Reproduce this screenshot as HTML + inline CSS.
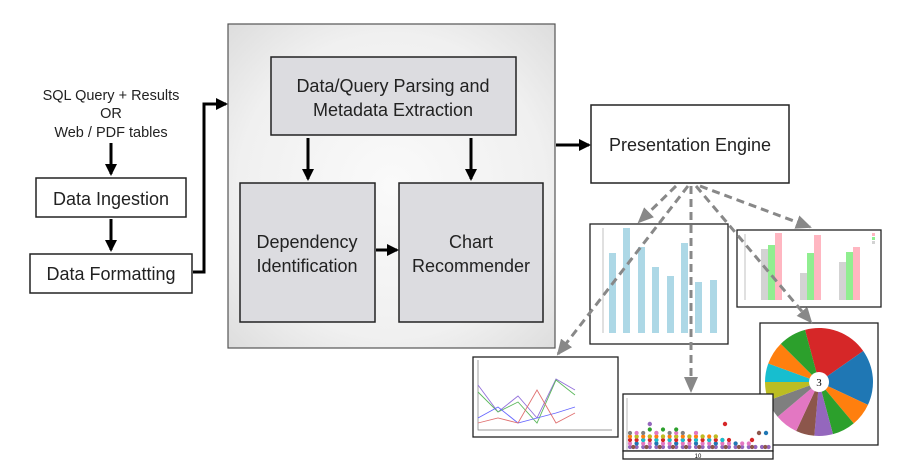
<!DOCTYPE html>
<html><head><meta charset="utf-8"><style>
html,body{margin:0;padding:0;background:#fff;}
svg{display:block;font-family:"Liberation Sans",sans-serif;}
</style></head><body>
<svg width="911" height="465" viewBox="0 0 911 465" xmlns="http://www.w3.org/2000/svg">
<defs>
<radialGradient id="g" cx="50%" cy="50%" r="72%">
<stop offset="0" stop-color="#fafafa"/><stop offset="0.65" stop-color="#f0f0f0"/><stop offset="1" stop-color="#dcdcdc"/>
</radialGradient>
<marker id="ah" markerWidth="12" markerHeight="12" refX="10" refY="6" orient="auto" markerUnits="userSpaceOnUse"><path d="M0,0 L12,6 L0,12 z" fill="#000"/></marker>
<marker id="gh" markerWidth="16" markerHeight="14" refX="14" refY="7" orient="auto" markerUnits="userSpaceOnUse"><path d="M0,0 L16,7 L0,14 z" fill="#888"/></marker>
</defs>

<rect x="228" y="24" width="327" height="324" fill="url(#g)" stroke="#555" stroke-width="1.2"/>
<rect x="271" y="57" width="245" height="78" fill="#dcdce0" stroke="#222" stroke-width="1.5"/>
<text x="393" y="92" font-size="18" text-anchor="middle" fill="#222">Data/Query Parsing and</text>
<text x="393" y="116" font-size="18" text-anchor="middle" fill="#222">Metadata Extraction</text>
<rect x="240" y="183" width="135" height="139" fill="#dcdce0" stroke="#222" stroke-width="1.5"/>
<text x="307" y="248" font-size="18" text-anchor="middle" fill="#222">Dependency</text>
<text x="307" y="272" font-size="18" text-anchor="middle" fill="#222">Identification</text>
<rect x="399" y="183" width="144" height="139" fill="#dcdce0" stroke="#222" stroke-width="1.5"/>
<text x="471" y="248" font-size="18" text-anchor="middle" fill="#222">Chart</text>
<text x="471" y="272" font-size="18" text-anchor="middle" fill="#222">Recommender</text>

<line x1="308" y1="138" x2="308" y2="179" stroke="#000" stroke-width="3" marker-end="url(#ah)"/>
<line x1="471" y1="138" x2="471" y2="179" stroke="#000" stroke-width="3" marker-end="url(#ah)"/>
<line x1="376" y1="250" x2="397" y2="250" stroke="#000" stroke-width="3" marker-end="url(#ah)"/>

<text x="111" y="100" font-size="14.5" text-anchor="middle" fill="#222">SQL Query + Results</text>
<text x="111" y="118" font-size="14.5" text-anchor="middle" fill="#222">OR</text>
<text x="111" y="137" font-size="14.5" text-anchor="middle" fill="#222">Web / PDF tables</text>
<line x1="111" y1="143" x2="111" y2="174" stroke="#000" stroke-width="3" marker-end="url(#ah)"/>
<rect x="36" y="178" width="150" height="39" fill="#fff" stroke="#222" stroke-width="1.5"/>
<text x="111" y="205" font-size="18" text-anchor="middle" fill="#222">Data Ingestion</text>
<line x1="111" y1="219" x2="111" y2="250" stroke="#000" stroke-width="3" marker-end="url(#ah)"/>
<rect x="30" y="254" width="162" height="39" fill="#fff" stroke="#222" stroke-width="1.5"/>
<text x="111" y="280" font-size="18" text-anchor="middle" fill="#222">Data Formatting</text>
<polyline points="193,272 204,272 204,104 226,104" fill="none" stroke="#000" stroke-width="3" marker-end="url(#ah)"/>

<line x1="556" y1="145" x2="589" y2="145" stroke="#000" stroke-width="3" marker-end="url(#ah)"/>
<rect x="591" y="105" width="198" height="78" fill="#fff" stroke="#222" stroke-width="1.5"/>
<text x="690" y="151" font-size="18" text-anchor="middle" fill="#222">Presentation Engine</text>

<!-- bar chart -->
<rect x="590" y="224" width="138" height="120" fill="#fff" stroke="#222" stroke-width="1.3"/>
<line x1="603" y1="228" x2="603" y2="333" stroke="#999" stroke-width="0.6"/>
<g fill="#add8e6">
<rect x="609" y="253" width="7" height="80"/><rect x="623" y="228" width="7" height="105"/>
<rect x="638" y="247" width="7" height="86"/><rect x="652" y="267" width="7" height="66"/>
<rect x="667" y="276" width="7" height="57"/><rect x="681" y="243" width="7" height="90"/>
<rect x="695" y="282" width="7" height="51"/><rect x="710" y="280" width="7" height="53"/>
</g>
<!-- grouped -->
<rect x="737" y="230" width="144" height="77" fill="#fff" stroke="#222" stroke-width="1.3"/>
<line x1="745" y1="234" x2="745" y2="300" stroke="#999" stroke-width="0.6"/>
<rect x="761" y="249" width="7" height="51" fill="#d3d3d3"/><rect x="768" y="245" width="7" height="55" fill="#90ee90"/><rect x="775" y="233" width="7" height="67" fill="#ffb6c1"/>
<rect x="800" y="273" width="7" height="27" fill="#d3d3d3"/><rect x="807" y="253" width="7" height="47" fill="#90ee90"/><rect x="814" y="235" width="7" height="65" fill="#ffb6c1"/>
<rect x="839" y="262" width="7" height="38" fill="#d3d3d3"/><rect x="846" y="252" width="7" height="48" fill="#90ee90"/><rect x="853" y="247" width="7" height="53" fill="#ffb6c1"/>
<rect x="872" y="233" width="3" height="3" fill="#ffb6c1"/><rect x="872" y="237" width="3" height="3" fill="#90ee90"/><rect x="872" y="241" width="3" height="3" fill="#d3d3d3"/>

<!-- pie -->
<rect x="760" y="323" width="118" height="122" fill="#fff" stroke="#222" stroke-width="1.3"/>
<path d="M819,382 L805.02,329.84 A54,54 0 0 1 863.24,351.03 z" fill="#d62728"/>
<path d="M819,382 L863.24,351.03 A54,54 0 0 1 867.94,404.82 z" fill="#1f77b4"/>
<path d="M819,382 L867.94,404.82 A54,54 0 0 1 853.71,423.37 z" fill="#ff7f0e"/>
<path d="M819,382 L853.71,423.37 A54,54 0 0 1 832.98,434.16 z" fill="#2ca02c"/>
<path d="M819,382 L832.98,434.16 A54,54 0 0 1 814.29,435.79 z" fill="#9467bd"/>
<path d="M819,382 L814.29,435.79 A54,54 0 0 1 796.18,430.94 z" fill="#8c564b"/>
<path d="M819,382 L796.18,430.94 A54,54 0 0 1 777.63,416.71 z" fill="#e377c2"/>
<path d="M819,382 L777.63,416.71 A54,54 0 0 1 768.26,400.47 z" fill="#7f7f7f"/>
<path d="M819,382 L768.26,400.47 A54,54 0 0 1 765,382 z" fill="#bcbd22"/>
<path d="M819,382 L765,382 A54,54 0 0 1 768.26,363.53 z" fill="#17becf"/>
<path d="M819,382 L768.26,363.53 A54,54 0 0 1 780.82,343.82 z" fill="#ff7f0e"/>
<path d="M819,382 L780.82,343.82 A54,54 0 0 1 805.02,329.84 z" fill="#2ca02c"/>
<circle cx="819" cy="382" r="10" fill="#fff"/>
<text x="819" y="386" font-size="11" text-anchor="middle" font-family="Liberation Serif,serif">3</text>

<!-- line chart -->
<rect x="473" y="357" width="145" height="80" fill="#fff" stroke="#222" stroke-width="1.3"/>
<polyline points="478,360 478,430 612,430" fill="none" stroke="#777" stroke-width="0.7"/>
<g fill="none" stroke-width="0.9">
<polyline points="478,385 498,412 518,396 537,418 556,379 575,390" stroke="#9370db"/>
<polyline points="478,392 498,412 518,402 537,423 556,380 575,395" stroke="#5cb85c"/>
<polyline points="478,418 498,407 518,423 537,418 556,413 575,407" stroke="#6666ff"/>
<polyline points="478,423 498,418 518,423 537,390 556,423 575,413" stroke="#e07070"/>
</g>

<!-- scatter -->
<rect x="623" y="394" width="150" height="57" fill="#fff" stroke="#222" stroke-width="1.3"/>
<rect x="623" y="451" width="150" height="8" fill="#fff" stroke="#222" stroke-width="1.3"/>
<text x="698" y="458" font-size="6" text-anchor="middle">10</text>
<line x1="627" y1="398" x2="627" y2="450" stroke="#777" stroke-width="0.5"/>
<g stroke-linecap="round" stroke-width="4.2" stroke-dasharray="0 6.6">
<line x1="630" y1="447" x2="770" y2="447" stroke="#9467bd"/>
<line x1="633.3" y1="447" x2="770" y2="447" stroke="#8c564b" stroke-dasharray="0 13.2"/>
<line x1="630" y1="443.5" x2="755" y2="443.5" stroke="#e377c2"/>
<line x1="636.6" y1="443.5" x2="755" y2="443.5" stroke="#1f77b4" stroke-dasharray="0 19.8"/>
<line x1="630" y1="440" x2="735" y2="440" stroke="#d62728"/>
<line x1="643.2" y1="440" x2="735" y2="440" stroke="#17becf" stroke-dasharray="0 13.2"/>
<line x1="630" y1="436.5" x2="720" y2="436.5" stroke="#ff7f0e"/>
<line x1="636.6" y1="436.5" x2="720" y2="436.5" stroke="#bcbd22" stroke-dasharray="0 13.2"/>
<line x1="630" y1="433" x2="700" y2="433" stroke="#7f7f7f" stroke-dasharray="0 13.2"/>
<line x1="636.6" y1="433" x2="700" y2="433" stroke="#e377c2" stroke-dasharray="0 19.8"/>
<line x1="649.8" y1="429.5" x2="680" y2="429.5" stroke="#2ca02c" stroke-dasharray="0 13.2"/>
</g>
<circle cx="649.8" cy="424" r="2.2" fill="#9467bd"/>
<circle cx="725" cy="424" r="2.2" fill="#d62728"/>
<circle cx="752" cy="440" r="2.2" fill="#d62728"/>
<circle cx="759" cy="433" r="2.2" fill="#8c564b"/>
<circle cx="766" cy="433" r="2.2" fill="#1f77b4"/>

<!-- dashed arrows -->
<g stroke="#888" stroke-width="3" stroke-dasharray="8 5" fill="none">
<line x1="676" y1="186" x2="639" y2="222" marker-end="url(#gh)"/>
<line x1="688" y1="186" x2="558" y2="354" marker-end="url(#gh)"/>
<line x1="691" y1="186" x2="691" y2="391" marker-end="url(#gh)"/>
<line x1="700" y1="186" x2="810" y2="227" marker-end="url(#gh)"/>
<line x1="696" y1="186" x2="811" y2="322" marker-end="url(#gh)"/>
</g>
</svg>
</body></html>
